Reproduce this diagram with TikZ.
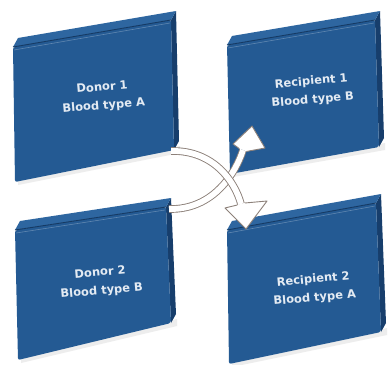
\documentclass[tikz,border=0pt]{standalone}
\usepackage{fontspec}
\newfontfamily\boxfont{DejaVu Sans}
\usetikzlibrary{calc}
\definecolor{frontblue}{HTML}{245A93}
\definecolor{topblue}{HTML}{2E66A0}
\definecolor{sideblue}{HTML}{173E6C}
\definecolor{edgeblue}{HTML}{153A64}
\definecolor{txtcol}{HTML}{E4EBF3}
\definecolor{arrowgray}{HTML}{8C8079}
\tikzset{
  boxtext/.style={text=txtcol, font=\boxfont\bfseries\fontsize{11.5}{18.5}\selectfont, align=center, rotate=5, inner sep=0pt},
  shaft/.style={draw=arrowgray, line width=0.9pt, double=white, double distance=5.8pt},
  headstyle/.style={fill=white, draw=arrowgray, line width=0.9pt, line join=round},
}
% slab: #1 TL, #2 TR, #3 BR, #4 BL (front face), #5 depth vector
\newcommand\slabshape[5]{%
  \fill[black!7] ($(#4)+(3,3)$) -- ($(#3)+(6,3)$) -- ($(#3)+(6,-4)$) -- ($(#4)+(3,-4)$) -- cycle;
  \fill[sideblue] (#2) -- ($(#2)+(#5)$) -- ($(#3)+(#5)$) -- (#3) -- cycle;
  \fill[topblue] (#1) -- ($(#1)+(#5)$) -- ($(#2)+(#5)$) -- (#2) -- cycle;
  \fill[frontblue, rounded corners=2pt] (#1) -- (#2) -- (#3) -- (#4) -- cycle;
  \draw[edgeblue, line width=0.9pt] (#1) -- (#2);
  \draw[white!60!frontblue, line width=0.6pt, opacity=0.45] ($(#1)+(1,3)$) -- ($(#2)+(-1,3)$);
}
\begin{document}
\begin{tikzpicture}[x=1pt,y=-1pt]
\useasboundingbox (0,0) rectangle (390,364);
\fill[white] (0,0) rectangle (390,364);
% Donor 1
\slabshape{13,47}{171,20}{174,150}{15,182}{5,-9}
% Recipient 1
\slabshape{227,45}{375,20}{379,147}{230,174}{5,-9}
% Donor 2
\slabshape{15,230}{166,207}{171,323}{18,360}{5,-9}
% Recipient 2
\slabshape{227,230}{376,203}{381,332}{229,364}{5,-9}

\node[boxtext] (d1) at (103,97) {Donor 1\\Blood type A};
\node[boxtext] (r1) at (312,91) {Recipient 1\\Blood type B};
\node[boxtext] (d2) at (101,282) {Donor 2\\Blood type B};
\node[boxtext] (r2) at (314,289) {Recipient 2\\Blood type A};

% arrow anchors
\coordinate (aS) at (171,151);
\coordinate (aE) at (241,204);
\coordinate (bS) at (169,209);
\coordinate (bE) at (243,150);

% Arrow B: Donor 2 -> Recipient 1
\draw[shaft] (bS) .. controls (214,210) and (236,172) .. (bE);
\filldraw[headstyle] (239.3,148.6) -- (233,144) -- (252,126) -- (265,148) -- (246.7,151.4);
% Arrow A: Donor 1 -> Recipient 2
\draw[shaft] (aS) .. controls (214,150) and (235,182) .. (aE);
\filldraw[headstyle] (237.2,205) -- (225,208) -- (246,229) -- (267,201) -- (244.8,203);
\end{tikzpicture}
\end{document}
